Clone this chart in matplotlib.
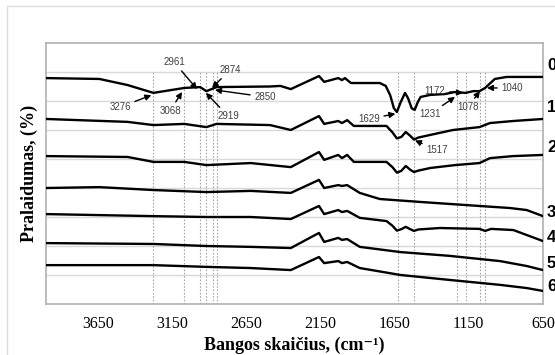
import matplotlib
matplotlib.use('Agg')
import matplotlib.pyplot as plt
from matplotlib.patches import Rectangle

# spektrai: bangos skaicius (cm-1) ir pralaidumas (santykiniai vienetai, paslinkti)
wn0 = [4000, 3640, 3450, 3276, 3068, 2961, 2919, 2874, 2850, 2490, 2420, 2350, 2160, 2125, 2030, 2005, 1985,
       1945, 1750, 1710, 1680, 1655, 1635, 1610, 1580, 1560, 1535, 1515, 1495, 1475, 1410, 1310, 1245, 1172,
       1120, 1078, 1040, 975, 895, 650]
t0 = [77.9, 77.6, 75.5, 72.8, 74.5, 74.8, 73.4, 74.3, 74.8, 75.0, 75.2, 74.1, 78.6, 76.6, 77.9, 77.2, 77.9,
      76.2, 76.2, 75.2, 72.0, 67.5, 66.2, 69.5, 72.8, 71.0, 67.5, 66.9, 69.5, 71.4, 72.1, 72.4, 73.1, 72.8,
      73.4, 73.4, 74.5, 77.6, 78.3, 78.3]

wn1 = [4000, 3450, 3276, 3068, 2919, 2850, 2490, 2350, 2160, 2125, 2030, 2005, 1970, 1925, 1705, 1665, 1635,
       1605, 1575, 1545, 1520, 1490, 1410, 1257, 1078, 1007, 852, 650]
t1 = [63.8, 62.8, 61.7, 62.1, 61.0, 62.1, 61.7, 60.0, 64.8, 62.1, 63.1, 62.4, 63.4, 61.4, 61.4, 59.2, 57.1,
      57.6, 59.3, 58.0, 56.7, 57.4, 58.3, 60.0, 61.0, 62.4, 63.1, 63.8]

wn2 = [4000, 3450, 3276, 3068, 2919, 2620, 2350, 2160, 2125, 2030, 2005, 1970, 1925, 1705, 1665, 1635, 1605,
       1575, 1545, 1520, 1490, 1410, 1243, 1078, 1007, 852, 650]
t2 = [51.0, 50.7, 49.0, 49.0, 47.9, 48.6, 47.2, 52.4, 49.7, 51.4, 50.3, 51.4, 49.0, 49.0, 47.2, 45.3, 45.9,
      47.6, 46.3, 45.5, 46.0, 46.9, 47.9, 48.6, 50.3, 51.0, 51.4]

wn3 = [4000, 3640, 3276, 2919, 2620, 2350, 2160, 2125, 2030, 2005, 1970, 1885, 1750, 1480, 1078, 873, 760, 650]
t3 = [40.0, 40.3, 39.3, 38.6, 39.0, 38.3, 42.8, 40.0, 41.0, 40.7, 41.0, 38.3, 36.2, 35.2, 33.8, 33.1, 32.4, 30.3]

wn4 = [4000, 3276, 2919, 2620, 2350, 2160, 2125, 2030, 2005, 1970, 1885, 1705, 1665, 1635, 1605, 1575, 1545,
       1520, 1490, 1345, 1078, 1040, 1000, 850, 650]
t4 = [31.0, 30.3, 30.0, 30.0, 29.3, 33.8, 31.0, 32.4, 31.7, 32.1, 29.7, 28.6, 27.0, 25.3, 25.8, 26.6, 25.8,
      25.2, 25.7, 26.2, 25.9, 25.2, 25.9, 25.5, 21.7]

wn5 = [4000, 3276, 2919, 2620, 2350, 2160, 2125, 2030, 2005, 1970, 1885, 1610, 1280, 940, 760, 650]
t5 = [21.0, 20.7, 20.0, 19.7, 19.3, 24.5, 21.4, 22.8, 22.1, 22.4, 19.7, 17.9, 16.6, 14.8, 13.1, 11.7]

wn6 = [4000, 3276, 2919, 2620, 2350, 2160, 2125, 2030, 2005, 1970, 1885, 1610, 1280, 940, 760, 650]
t6 = [13.4, 13.4, 12.8, 12.4, 11.7, 16.2, 14.1, 14.8, 14.1, 14.5, 12.4, 10.0, 8.3, 6.6, 5.5, 4.5]

spektrai = [(wn0, t0), (wn1, t1), (wn2, t2), (wn3, t3), (wn4, t4), (wn5, t5), (wn6, t6)]
numeriai = ['0', '1', '2', '3', '4', '5', '6']
numeriu_y = [82.1, 67.6, 54.1, 31.4, 23.1, 14.1, 5.9]

# pazymetos smailes: tekstas, rodykles galas, teksto vieta
smailes = ['3276', '3068', '2961', '2919', '2874', '2850', '1629', '1517', '1231', '1172', '1078', '1040']
smailiu_xy = [(3290, 72.0), (3083, 73.1), (2982, 74.1), (2922, 72.8), (2881, 74.5), (2861, 73.8),
              (1645, 65.6), (1513, 56.4), (1243, 71.4), (1189, 72.8), (1075, 73.4), (1028, 74.5)]
smailiu_tekstas = [(3501, 67.9), (3164, 66.6), (3137, 83.4), (2773, 64.8), (2760, 80.7), (2524, 71.4),
                   (1823, 63.8), (1365, 53.1), (1412, 65.5), (1378, 73.4), (1156, 67.9), (859, 74.5)]
linijos = [3276, 3068, 2961, 2919, 2874, 2850, 1629, 1517, 1231, 1172, 1078, 1040]

xticks = [3650, 3150, 2650, 2150, 1650, 1150, 650]

fig = plt.figure(figsize=(5.55, 3.55), dpi=100)
ax = fig.add_axes([46 / 555, 51 / 355, 497 / 555, 261 / 355])

for y in range(10, 90, 10):
    ax.axhline(y, color='#d9d9d9', lw=1, zorder=0)
for w in linijos:
    ax.plot([w, w], [0, 80], color='#a6a6a6', lw=0.8, ls=(0, (1.5, 1.5)), zorder=1)

for wn, t in spektrai:
    ax.plot(wn, t, color='black', lw=1.7, zorder=3)

for lab, xy, xt in zip(smailes, smailiu_xy, smailiu_tekstas):
    ax.annotate(lab, xy=xy, xytext=xt, ha='center', va='center', fontsize=7,
                family='Liberation Sans', color='#404040', zorder=4,
                arrowprops=dict(arrowstyle='-|>,head_length=0.5,head_width=0.25', color='black',
                                lw=1, shrinkA=1, shrinkB=0))

for lab, y in zip(numeriai, numeriu_y):
    ax.text(1.008, y, lab, transform=ax.get_yaxis_transform(), ha='left', va='center',
            fontsize=12, fontweight='bold', family='Liberation Sans', clip_on=False)

ax.set_xlim(4000, 650)
ax.set_ylim(0, 90)
ax.set_xticks(xticks)
ax.set_xticklabels([str(v) for v in xticks], family='Liberation Serif', fontsize=11.5)
ax.set_yticks([])
ax.tick_params(axis='x', length=0, pad=9)
for s in ax.spines.values():
    s.set_color('#b0b0b0')
    s.set_linewidth(1.2)

ax.set_xlabel('Bangos skaičius, (cm⁻¹)', family=['Liberation Serif', 'DejaVu Serif'],
              fontsize=13, fontweight='bold', labelpad=3)
ax.set_ylabel('Pralaidumas, (%)', family='Liberation Serif', fontsize=13, fontweight='bold', labelpad=6)

fig.patches.append(Rectangle((7 / 555, -0.1), 1.2, (355 - 6) / 355 + 0.1, transform=fig.transFigure,
                             fill=False, edgecolor='#dddddd', lw=1))

fig.savefig('out.png', dpi=100)
